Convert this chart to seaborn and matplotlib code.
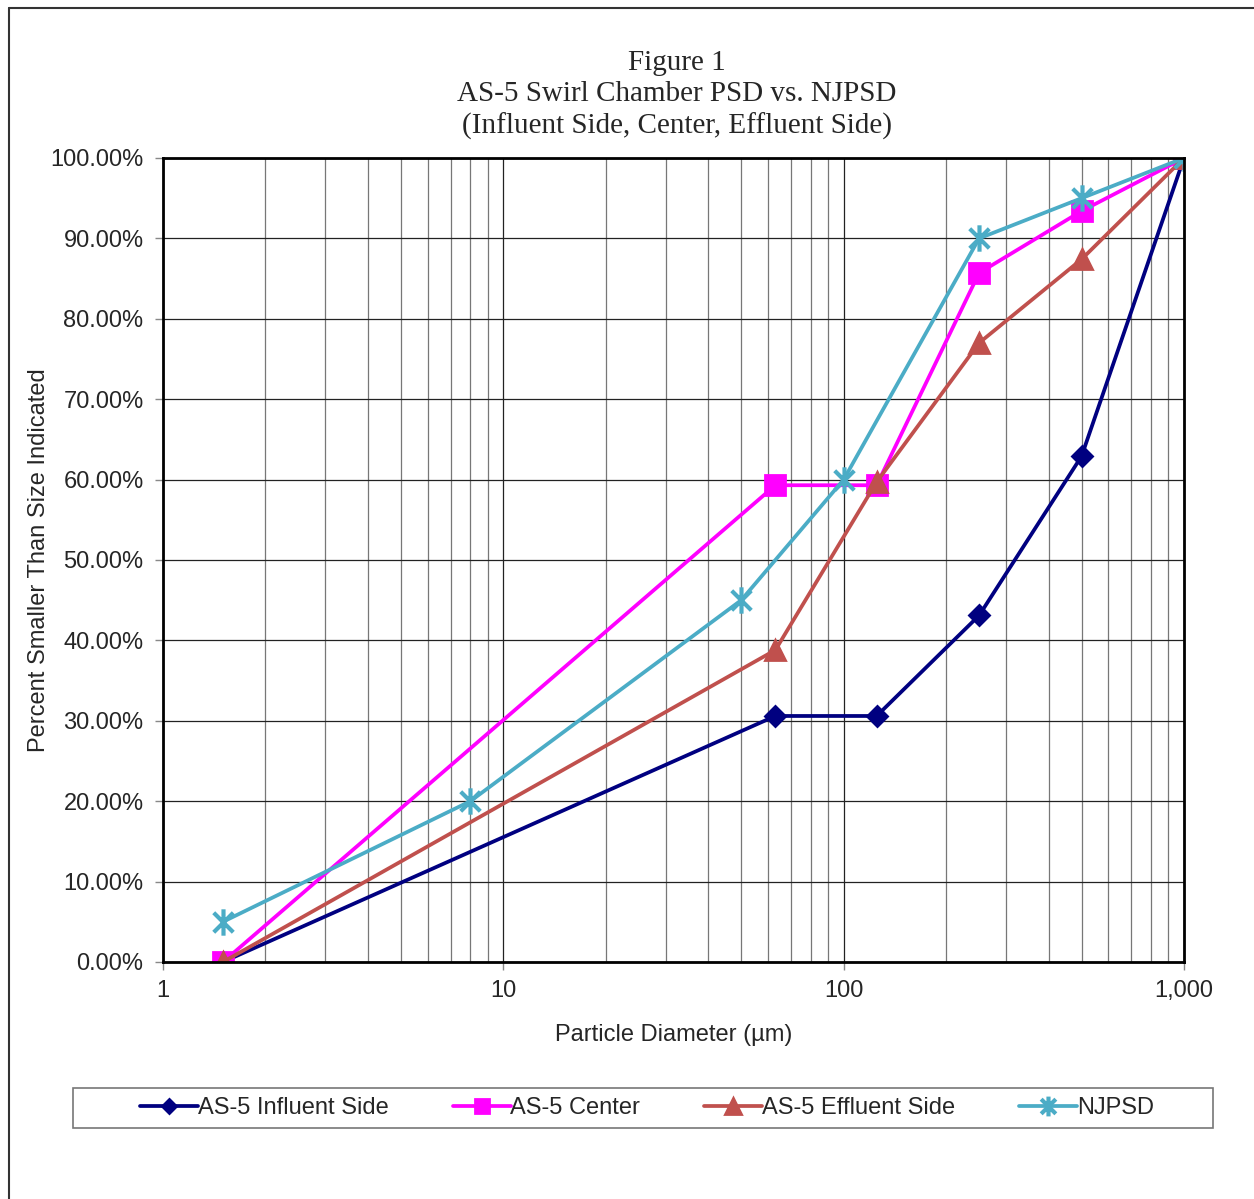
import matplotlib
matplotlib.use('Agg')
import matplotlib.pyplot as plt
import matplotlib.ticker as mticker
from matplotlib.path import Path
from matplotlib.lines import Line2D
from matplotlib.patches import Rectangle
import seaborn as sns

# sizes in microns and percent finer
influent_x = [1.5, 63, 125, 250, 500, 1000]
influent_y = [0.0, 30.6, 30.6, 43.1, 62.9, 100.0]

center_x = [1.5, 63, 125, 250, 500, 1000]
center_y = [0.0, 59.3, 59.3, 85.7, 93.4, 100.0]

effluent_x = [1.5, 63, 125, 250, 500, 1000]
effluent_y = [0.0, 38.8, 59.7, 77.0, 87.4, 100.0]

njpsd_x = [1.5, 8, 50, 100, 250, 500, 1000]
njpsd_y = [5.0, 20.0, 45.0, 60.0, 90.0, 95.0, 100.0]

names = ['AS-5 Influent Side', 'AS-5 Center', 'AS-5 Effluent Side', 'NJPSD']

sns.set_style('white')
plt.rcParams['font.family'] = ['Liberation Sans', 'DejaVu Sans']

# excel style asterisk (x with a vertical bar)
star = Path([(-1, -1), (1, 1), (-1, 1), (1, -1), (0, -1.35), (0, 1.35)],
            [Path.MOVETO, Path.LINETO, Path.MOVETO, Path.LINETO, Path.MOVETO, Path.LINETO])

fig = plt.figure(figsize=(12.54, 11.99), dpi=100)
ax = fig.add_axes([163 / 1254, 1 - 962 / 1199, 1021 / 1254, 804 / 1199])

series = [
    (influent_x, influent_y, '#000080', 'D', 10, 2),
    (center_x, center_y, '#FF00FF', 's', 14, 2),
    (effluent_x, effluent_y, '#C0504D', '^', 15, 2),
    (njpsd_x, njpsd_y, '#4BACC6', star, 19, 3),
]
for (xs, ys, col, mk, ms, mew), name in zip(series, names):
    sns.lineplot(x=xs, y=ys, ax=ax, color=col, marker=mk, markersize=ms,
                 markeredgecolor=col, markerfacecolor=col, markeredgewidth=mew,
                 linewidth=2.7, label=name, sort=False, legend=False)

ax.set_xscale('log')
ax.set_xlim(1, 1000)
ax.set_ylim(0, 100)
ax.xaxis.set_major_locator(mticker.FixedLocator([1, 10, 100, 1000]))
ax.xaxis.set_major_formatter(mticker.FuncFormatter(lambda v, p: f'{v:,.0f}'))
ax.xaxis.set_minor_locator(mticker.LogLocator(base=10, subs=range(2, 10)))
ax.xaxis.set_minor_formatter(mticker.NullFormatter())
ax.yaxis.set_major_locator(mticker.MultipleLocator(10))
ax.yaxis.set_major_formatter(mticker.FuncFormatter(lambda v, p: f'{v:.2f}%'))

ax.grid(True, which='major', color='#222222', linewidth=0.9)
ax.grid(True, which='minor', axis='x', color='#777777', linewidth=0.9)
ax.set_axisbelow(True)
for s in ax.spines.values():
    s.set_color('black')
    s.set_linewidth(2)

ax.tick_params(axis='both', which='major', labelsize=17, length=6, width=1,
               color='#888888', direction='out', pad=8, left=True, bottom=True)
ax.tick_params(axis='x', which='minor', length=0)
ax.tick_params(axis='x', which='major', pad=7)

ax.set_xlabel('Particle Diameter (µm)', fontsize=17, labelpad=16)
ax.set_ylabel('Percent Smaller Than Size Indicated', fontsize=17, labelpad=0)

fig.text(0.54, 1 - 95 / 1199,
         'Figure 1\nAS-5 Swirl Chamber PSD vs. NJPSD\n(Influent Side, Center, Effluent Side)',
         ha='center', va='center', fontsize=21, family='Liberation Serif', linespacing=1.27)

handles, labels = ax.get_legend_handles_labels()
leg = fig.legend(handles, labels, loc='center', bbox_to_anchor=(647 / 1254, 1 - 1108 / 1199),
                 ncol=4, fontsize=17, frameon=False,
                 handlelength=2.45, handletextpad=0.0, columnspacing=2.7,
                 markerscale=0.75)

# legend frame and outer chart border
fig.add_artist(Rectangle((73 / 1254, 1 - 1128 / 1199), 1140 / 1254, 40 / 1199,
                         transform=fig.transFigure, fill=False,
                         edgecolor='#777777', linewidth=1.2))
fig.add_artist(Line2D([9 / 1254, 9 / 1254], [0, 1 - 8 / 1199], color='#333333', linewidth=1.5))
fig.add_artist(Line2D([9 / 1254, 1], [1 - 8 / 1199, 1 - 8 / 1199], color='#333333', linewidth=1.5))

fig.savefig('out.png', dpi=100)
